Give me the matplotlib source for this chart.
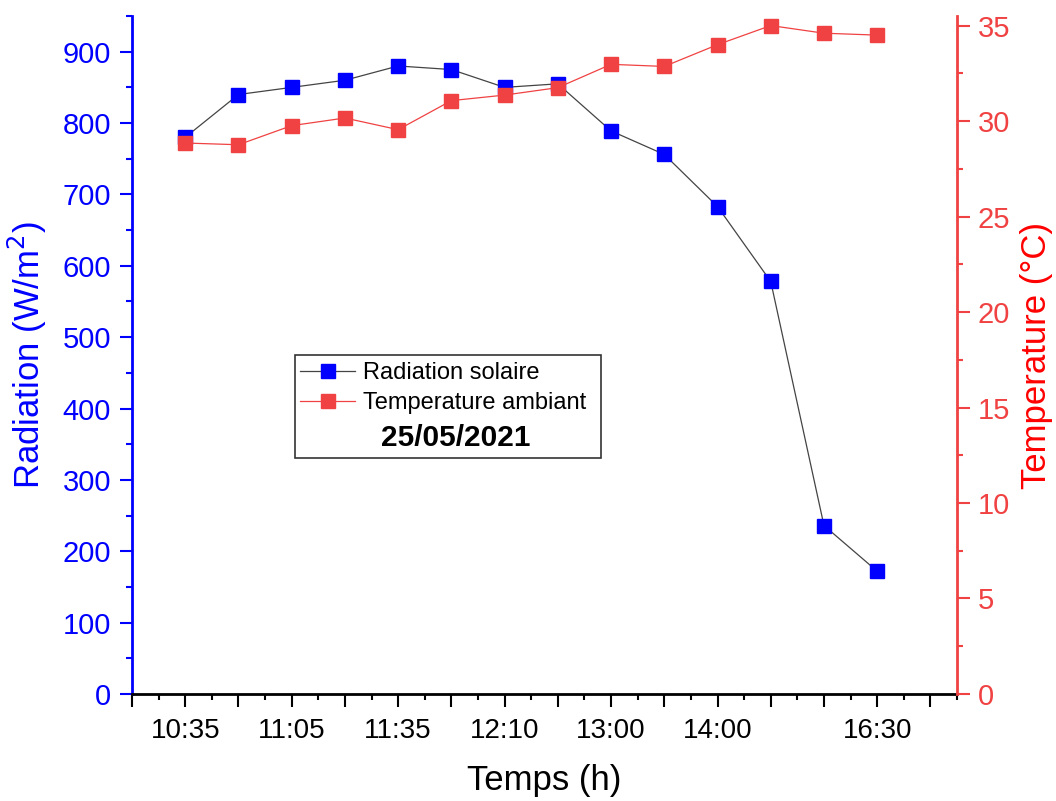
#!/usr/bin/env python3
"""Radiation solaire et temperature ambiante, 25/05/2021."""

import matplotlib

matplotlib.use("Agg")
import matplotlib.pyplot as plt
from matplotlib.lines import Line2D
from matplotlib.patches import Rectangle
from matplotlib.ticker import MultipleLocator

plt.rcParams["font.family"] = ["Liberation Sans", "DejaVu Sans"]

# x positions are sample indices; tick labels for positions 0..15
TICK_LABELS = ["", "10:35", "", "11:05", "", "11:35", "", "12:10",
               "", "13:00", "", "14:00", "", "", "16:30", ""]
SAMPLE_INDEX = list(range(1, 15))
RADIATION = [780, 840, 850, 860, 880, 875, 850, 855, 789, 756, 683, 578, 236, 172]
TEMPERATURE = [28.85, 28.76, 29.76, 30.16, 29.55, 31.07, 31.36, 31.75,
               32.97, 32.86, 34.0, 35.0, 34.6, 34.5]

BLUE = "#0000ff"
RED = "#f04242"
RED_LABEL = "#ff0000"

fig = plt.figure(figsize=(10.56, 8.01), dpi=100)
ax = fig.add_axes([0.125, 0.1336, 0.7813, 0.8464])
ax2 = ax.twinx()

ax.plot(SAMPLE_INDEX, RADIATION, color="#444444", linewidth=0.9,
        marker="s", markersize=9.5, markerfacecolor=BLUE, markeredgecolor=BLUE,
        zorder=3)
ax2.plot(SAMPLE_INDEX, TEMPERATURE, color=RED, linewidth=0.9,
         marker="s", markersize=9.5, markerfacecolor=RED, markeredgecolor=RED,
         zorder=3)

ax.set_xlim(0, 15.5)
ax.set_ylim(0, 950)
ax2.set_ylim(0, 35.5)

ax.set_xticks(range(len(TICK_LABELS)))
ax.set_xticklabels(TICK_LABELS)
ax.xaxis.set_minor_locator(MultipleLocator(0.5))
ax.yaxis.set_major_locator(MultipleLocator(100))
ax.yaxis.set_minor_locator(MultipleLocator(50))
ax2.yaxis.set_major_locator(MultipleLocator(5))
ax2.yaxis.set_minor_locator(MultipleLocator(2.5))

for a in (ax, ax2):
    a.spines["top"].set_visible(False)
    for s in a.spines.values():
        s.set_linewidth(2)
ax.spines["right"].set_visible(False)
ax2.spines["left"].set_visible(False)
ax2.spines["bottom"].set_visible(False)
ax.spines["left"].set_color(BLUE)
ax.spines["bottom"].set_color("black")
ax2.spines["right"].set_color(RED)

ax.tick_params(axis="x", which="major", length=9, width=1.5, labelsize=20,
               pad=8, colors="black")
ax.tick_params(axis="x", which="minor", length=4, width=1.5, colors="black")
ax.tick_params(axis="y", which="major", length=9, width=1.5, labelsize=21,
               colors=BLUE, pad=6)
ax.tick_params(axis="y", which="minor", length=4, width=1.5, colors=BLUE)
ax2.tick_params(axis="y", which="major", length=9, width=1.5, labelsize=21,
                colors=RED, pad=6)
ax2.tick_params(axis="y", which="minor", length=4, width=1.5, colors=RED)

ax.set_xlabel("Temps (h)", fontsize=25, labelpad=15)
ax.set_ylabel("Radiation (W/m$^2$)", fontsize=25, color=BLUE, labelpad=10)
ax2.set_ylabel("Temperature (°C)", fontsize=25, color=RED_LABEL, labelpad=7)

# legend box with the date underneath the entries
box = Rectangle((0.197, 0.348), 0.371, 0.152, transform=ax.transAxes,
                facecolor="white", edgecolor="#333333", linewidth=1.2, zorder=5)
ax.add_patch(box)
handles = [
    Line2D([0], [0], color="#444444", linewidth=0.9, marker="s", markersize=9.5,
           markerfacecolor=BLUE, markeredgecolor=BLUE, label="Radiation solaire"),
    Line2D([0], [0], color=RED, linewidth=0.9, marker="s", markersize=9.5,
           markerfacecolor=RED, markeredgecolor=RED, label="Temperature ambiant"),
]
leg = ax.legend(handles=handles, loc="upper left", bbox_to_anchor=(0.1985, 0.496),
                frameon=False, fontsize=17, handlelength=2.3, handletextpad=0.35,
                borderpad=0.2, borderaxespad=0, labelspacing=0.33, numpoints=1)
leg.set_zorder(6)
ax.text(0.392, 0.378, "25/05/2021", transform=ax.transAxes, ha="center",
        va="center", fontsize=21.5, fontweight="bold", zorder=7)

fig.savefig("out.png", dpi=100)
